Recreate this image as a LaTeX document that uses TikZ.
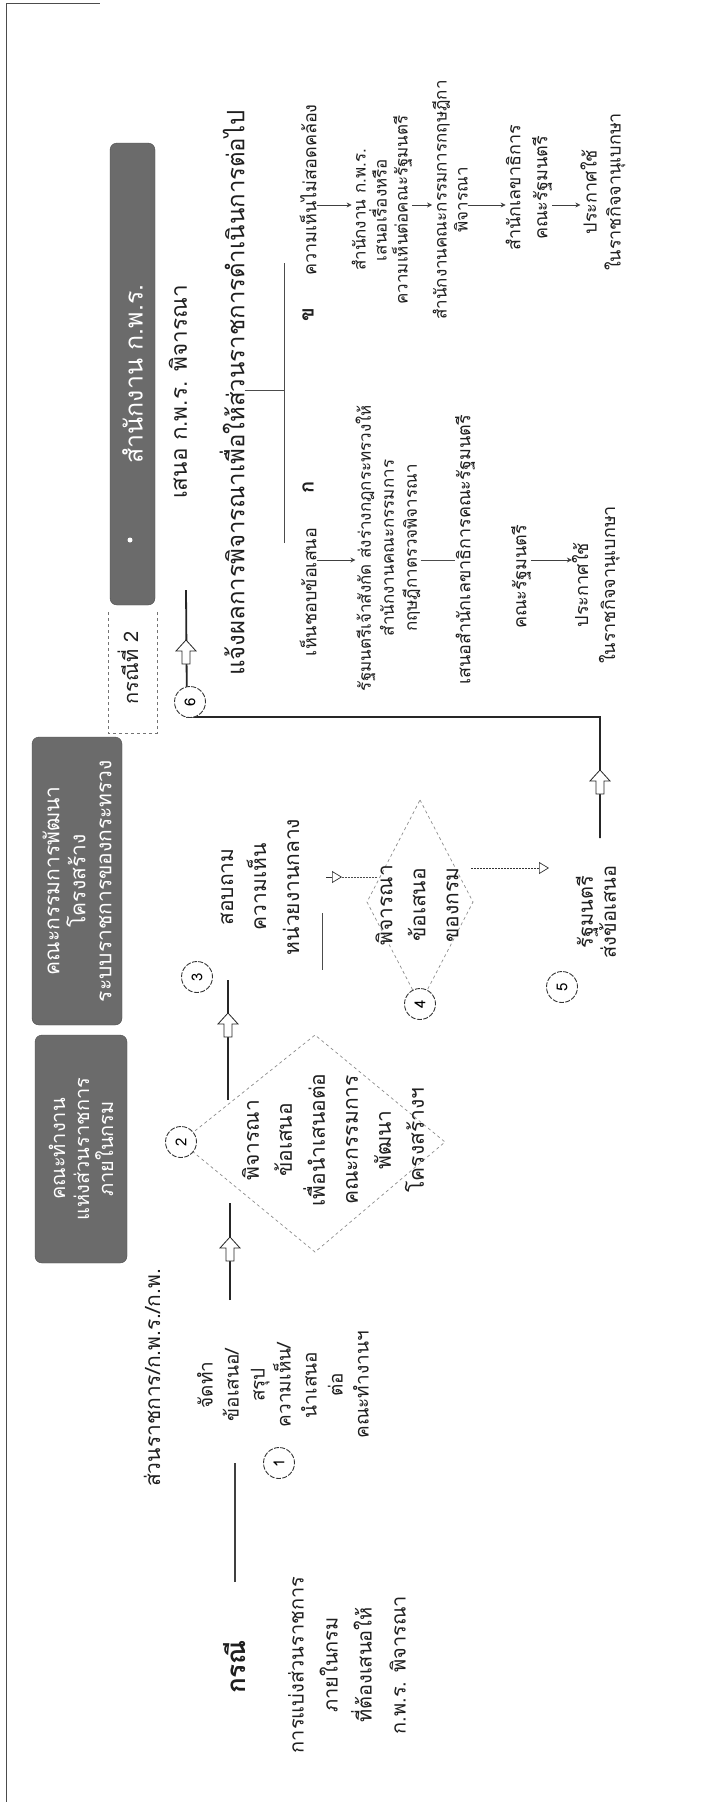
\documentclass[tikz,border=0pt]{standalone}
\usepackage{fontspec}
\newfontfamily\thai[Script=Thai]{Loma}
\usetikzlibrary{arrows.meta}
\begin{document}
\begin{tikzpicture}[x=1pt,y=-1pt,
  rt/.style={rotate=90, align=center, inner sep=0pt, text=black!88},
  fbig/.style={font=\thai\fontsize{26}{30}\selectfont\bfseries},
  fmain/.style={font=\thai\fontsize{21}{33}\selectfont},
  fsmall/.style={font=\thai\fontsize{18}{22}\selectfont},
  gbox/.style={rotate=90, draw=black!70, fill=black!58, rounded corners=7pt, text=white, align=center, inner sep=0pt, font=\thai\fontsize{20}{24}\selectfont},
  circ/.style={rotate=90, circle, draw=black!80, line width=0.9pt, dash pattern=on 5pt off 1.5pt, fill=white, minimum size=31pt, inner sep=0pt, font=\thai\fontsize{15}{15}\selectfont},
  flow/.style={line width=1.8pt, draw=black!85},
  diam/.style={draw=black!45, line width=0.7pt, dash pattern=on 3pt off 3pt},
  sarr/.style={draw=black!75, line width=0.7pt, -{Stealth[length=5pt,width=5pt]}},
  thinln/.style={draw=black!70, line width=0.7pt},
  openhead/.style={draw=black!80, line width=0.7pt, -{Triangle[open,length=10pt,width=12pt]}},
  hollowup/.pic={\draw[fill=white, line width=0.8pt, draw=black!85, line join=miter] (0,0) -- (-10,11) -- (-4,11) -- (-4,24) -- (4,24) -- (4,11) -- (10,11) -- cycle;},
]
\useasboundingbox (0,0) rectangle (719,1802);
\fill[white] (0,0) rectangle (719,1802);
% page frame
\draw[black!70, line width=1pt] (6,1802) -- (6,3) -- (100,3);

% grey lane boxes
\node[gbox, minimum width=462pt, minimum height=45pt, font=\thai\fontsize{25}{28}\selectfont] (boxA) at (132.5,374) {สำนักงาน ก.พ.ร.};
\fill[white] (130,540) circle (2.5);
\node[gbox, minimum width=288pt, minimum height=90pt, font=\thai\fontsize{21}{26}\selectfont] (boxB) at (77,881) {คณะกรรมการพัฒนา\\โครงสร้าง\\ระบบราชการของกระทรวง};
\node[gbox, minimum width=228pt, minimum height=92pt] (boxC) at (81,1149) {คณะทำงาน\\แห่งส่วนราชการ\\ภายในกรม};

% case 2 frame
\draw[diam, draw=black!55] (108,612) -- (108,733) -- (157,733) -- (157,612);
\node[rt, font=\thai\fontsize{20}{24}\selectfont] (case2) at (128,668) {กรณีที่ 2};

% left header texts
\node[rt, fbig] (kase) at (235,1667) {กรณี};
\node[rt, font=\thai\fontsize{20}{34}\selectfont] (kasetxt) at (347,1665) {การแบ่งส่วนราชการ\\ภายในกรม\\ที่ต้องเสนอให้\\ก.พ.ร. พิจารณา};
\node[rt, fmain] (sec) at (152,1378) {ส่วนราชการ/ก.พ.ร./ก.พ.};

% diamonds
\draw[diam] (181,1142) -- (315,1035) -- (445,1142) -- (315,1252) -- cycle;
\draw[diam] (420,800) -- (473,902) -- (420,1004) -- (367,902) -- cycle;

% step texts
\node[rt, font=\thai\fontsize{19}{26}\selectfont] (s1) at (283,1385) {จัดทำ\\ข้อเสนอ/\\สรุป\\ความเห็น/\\นำเสนอ\\ต่อ\\คณะทำงานฯ};
\node[rt, fmain] (s2) at (333,1140) {พิจารณา\\ข้อเสนอ\\เพื่อนำเสนอต่อ\\คณะกรรมการ\\พัฒนา\\โครงสร้างฯ};
\node[rt, fmain] (s3) at (260,887) {สอบถาม\\ความเห็น\\หน่วยงานกลาง};
\node[rt, fmain] (s4) at (417,905) {พิจารณา\\ข้อเสนอ\\ของกรม};
\node[rt, font=\thai\fontsize{20}{23}\selectfont] (s5) at (596,912) {รัฐมนตรี\\ส่งข้อเสนอ};

% main flow
\coordinate (k0) at (235,1582); \coordinate (k1) at (235,1463);
\draw[line width=1.3pt, black!75] (k0) -- (k1);
\coordinate (f1a) at (230,1300); \coordinate (f1b) at (230,1203);
\draw[flow] (f1a) -- (f1b);
\coordinate (f2a) at (228,1100); \coordinate (f2b) at (228,980);
\draw[flow] (f2a) -- (f2b);
\coordinate (f5a) at (600,838); \coordinate (f5b) at (600,717);
\coordinate (f6c) at (187,717); \coordinate (f6d) at (186,590);
\draw[flow] (f5a) -- (f5b) -- (f6c) -- (f6d);
% small connectors 3-4, 4-5
\coordinate (g3a) at (377,877); \coordinate (g3b) at (340,877);
\draw[thinln, dash pattern=on 2pt off 1pt] (g3a) -- (g3b);
\draw[openhead] (326,877) -- (342,877);
\draw[thinln] (322,913) -- (322,970);
\coordinate (g4a) at (471,868); \coordinate (g4b) at (549,868);
\draw[openhead, dash pattern=on 2pt off 1pt] (g4a) -- (g4b);

% circles
\node[circ] (c1) at (279,1463) {1};
\node[circ] (c2) at (181,1142) {2};
\node[circ] (c3) at (197,977) {3};
\node[circ] (c4) at (420,1004) {4};
\node[circ] (c5) at (562,987) {5};
\node[circ] (c6) at (190,702) {6};

% hollow arrows
\pic at (230,1237) {hollowup};
\pic at (228,1013) {hollowup};
\pic at (600,770) {hollowup};
\pic at (186,640) {hollowup};

% result branch
\node[rt, font=\thai\fontsize{22.5}{26}\selectfont] (hdr) at (178,392) {เสนอ ก.พ.ร. พิจารณา};
\node[rt, font=\thai\fontsize{24}{28}\selectfont] (res) at (232,393) {แจ้งผลการพิจารณาเพื่อให้ส่วนราชการดำเนินการต่อไป};
\coordinate (barA) at (284,543); \coordinate (barB) at (284,263); \coordinate (stem) at (284,390);
\draw[thinln] (barA) -- (barB);
\draw[thinln] (res.south |- stem) -- (stem);

% column ก
\node[rt, font=\thai\fontsize{20}{24}\selectfont\bfseries] (lk) at (308,487) {ก};
\node[rt, fsmall] (ka) at (308,592) {เห็นชอบข้อเสนอ};
\node[rt, font=\thai\fontsize{17}{23}\selectfont] (ka1) at (388,548) {รัฐมนตรีเจ้าสังกัด ส่งร่างกฎกระทรวงให้\\สำนักงานคณะกรรมการ\\กฤษฎีกาตรวจพิจารณา};
\node[rt, fsmall] (ka2) at (465,550) {เสนอสำนักเลขาธิการคณะรัฐมนตรี};
\node[rt, fsmall] (ka3) at (521,577) {คณะรัฐมนตรี};
\node[rt, font=\thai\fontsize{18}{27}\selectfont] (ka4) at (596,585) {ประกาศใช้\\ในราชกิจจานุเบกษา};
\coordinate (colA) at (0,560);
\draw[sarr] (ka.south |- colA) -- (ka1.north |- colA);
\draw[thinln] (ka1.south |- colA) -- (ka2.north |- colA);
\draw[sarr] (ka3.south |- colA) -- (ka4.north |- colA);

% column ข
\node[rt, font=\thai\fontsize{20}{24}\selectfont\bfseries] (lkh) at (308,315) {ข};
\node[rt, fsmall] (kb) at (308,190) {ความเห็นไม่สอดคล้อง};
\node[rt, font=\thai\fontsize{17}{21}\selectfont] (kb1) at (382,210) {สำนักงาน ก.พ.ร.\\เสนอเรื่องหรือ\\ความเห็นต่อคณะรัฐมนตรี};
\node[rt, font=\thai\fontsize{17}{21}\selectfont] (kb2) at (450,200) {สำนักงานคณะกรรมการกฤษฎีกา\\พิจารณา};
\node[rt, font=\thai\fontsize{18}{27}\selectfont] (kb3) at (529,188) {สำนักเลขาธิการ\\คณะรัฐมนตรี};
\node[rt, font=\thai\fontsize{18}{24}\selectfont] (kb4) at (603,192) {ประกาศใช้\\ในราชกิจจานุเบกษา};
\coordinate (colB) at (0,205);
\draw[sarr] (kb.south |- colB) -- (kb1.north |- colB);
\draw[sarr] (kb1.south |- colB) -- (kb2.north |- colB);
\draw[sarr] (kb2.south |- colB) -- (kb3.north |- colB);
\draw[sarr] (kb3.south |- colB) -- (kb4.north |- colB);
\end{tikzpicture}
\end{document}
